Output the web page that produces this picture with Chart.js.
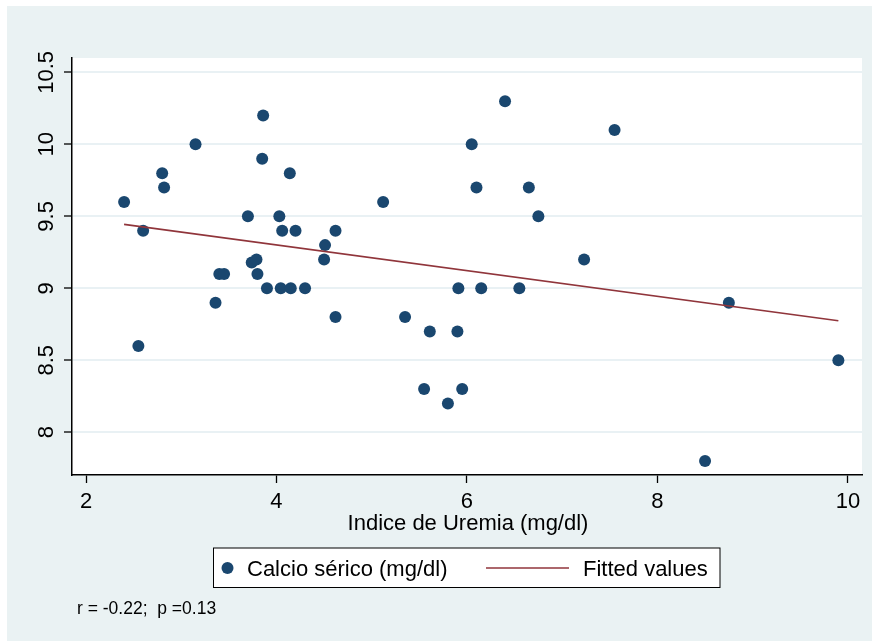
<!DOCTYPE html>
<html>
<head>
<meta charset="utf-8">
<script src="https://cdn.jsdelivr.net/npm/chart.js@4/dist/chart.umd.min.js"></script>
<style>
  html, body { margin: 0; padding: 0; background: #ffffff; }
  #wrap { width: 872px; height: 641px; }
</style>
</head>
<body>
<div id="wrap"><canvas id="c" width="872" height="641"></canvas></div>
<script>
// ---- Data ----
const uremia = [2.40, 2.55, 2.60, 2.80, 2.82, 3.15, 3.36, 3.40, 3.45, 3.70, 3.74, 3.79, 3.80, 3.85, 3.86, 3.90,
                4.03, 4.045, 4.06, 4.14, 4.15, 4.20, 4.30, 4.50, 4.51, 4.62, 4.62, 5.12, 5.35, 5.55, 5.61, 5.80,
                5.90, 5.91, 5.95, 6.05, 6.10, 6.15, 6.40, 6.55, 6.65, 6.75, 7.23, 7.55, 8.50, 8.75, 9.90];
const calcio = [9.6, 8.6, 9.4, 9.8, 9.7, 10.0, 8.9, 9.1, 9.1, 9.5, 9.18, 9.2, 9.1, 9.9, 10.2, 9.0,
                9.5, 9.0, 9.4, 9.8, 9.0, 9.4, 9.0, 9.2, 9.3, 9.4, 8.8, 9.6, 8.8, 8.3, 8.7, 8.2,
                8.7, 9.0, 8.3, 10.0, 9.7, 9.0, 10.3, 9.0, 9.7, 9.5, 9.2, 10.1, 7.8, 8.9, 8.5];
const fitX = [2.40, 9.90];
const fitY = [9.444, 8.775];
const xTicks = [2, 4, 6, 8, 10];
const yTicks = [8, 8.5, 9, 9.5, 10, 10.5];
const xTitle = "Indice de Uremia (mg/dl)";
const seriesName = "Calcio sérico (mg/dl)";
const fitName = "Fitted values";
const noteText = "r = -0.22;  p =0.13";

const FONT = "'Liberation Sans', Arial, Helvetica, sans-serif";
const NAVY = "#1a476f";
const MAROON = "#90353b";
const BG = "#eaf2f3";

const scatterData = uremia.map((x, i) => ({ x: x, y: calcio[i] }));
const fitData = fitX.map((x, i) => ({ x: x, y: fitY[i] }));

const bgPlugin = {
  id: 'bg',
  beforeDraw(chart) {
    const ctx = chart.ctx, a = chart.chartArea;
    ctx.save();
    ctx.fillStyle = '#ffffff';
    ctx.fillRect(0, 0, chart.width, chart.height);
    ctx.fillStyle = BG;
    ctx.fillRect(7, 6, chart.width - 7, chart.height - 6);
    ctx.fillStyle = '#ffffff';
    ctx.fillRect(a.left, a.top, a.right - a.left, a.bottom - a.top);
    ctx.restore();
  }
};

const textPlugin = {
  id: 'texts',
  afterDraw(chart) {
    const ctx = chart.ctx, a = chart.chartArea;
    const xs = chart.scales.x, ys = chart.scales.y;
    ctx.save();
    ctx.fillStyle = '#000';
    ctx.font = '22px ' + FONT;
    // x tick labels
    ctx.textAlign = 'center';
    ctx.textBaseline = 'alphabetic';
    xTicks.forEach(v => ctx.fillText(String(v), xs.getPixelForValue(v), 508));
    // y tick labels (rotated)
    yTicks.forEach(v => {
      ctx.save();
      ctx.translate(53, ys.getPixelForValue(v));
      ctx.rotate(-Math.PI / 2);
      ctx.textAlign = 'center';
      ctx.fillText(String(v), 0, 0);
      ctx.restore();
    });
    // x title
    ctx.textAlign = 'center';
    ctx.fillText(xTitle, (a.left + a.right) / 2 + 1, 530);
    // legend box
    ctx.fillStyle = '#ffffff';
    ctx.fillRect(213.5, 548, 506.5, 39.5);
    ctx.strokeStyle = '#000';
    ctx.lineWidth = 1;
    ctx.strokeRect(213.5, 548, 506.5, 39.5);
    ctx.fillStyle = NAVY;
    ctx.beginPath();
    ctx.arc(227.5, 568, 6, 0, Math.PI * 2);
    ctx.fill();
    ctx.fillStyle = '#000';
    ctx.textAlign = 'left';
    ctx.fillText(seriesName, 247, 576);
    ctx.strokeStyle = MAROON;
    ctx.lineWidth = 1.6;
    ctx.beginPath();
    ctx.moveTo(486, 568);
    ctx.lineTo(569, 568);
    ctx.stroke();
    ctx.fillText(fitName, 583, 576);
    // note
    ctx.font = '17.5px ' + FONT;
    ctx.fillText(noteText, 77, 614);
    ctx.restore();
  }
};

new Chart(document.getElementById('c'), {
  type: 'scatter',
  data: {
    datasets: [
      {
        label: seriesName,
        data: scatterData,
        backgroundColor: NAVY,
        borderColor: NAVY,
        borderWidth: 0,
        pointRadius: 6,
        pointHoverRadius: 6,
        order: 2
      },
      {
        type: 'line',
        label: fitName,
        data: fitData,
        borderColor: MAROON,
        backgroundColor: MAROON,
        borderWidth: 1.6,
        pointRadius: 0,
        showLine: true,
        fill: false,
        order: 1
      }
    ]
  },
  options: {
    responsive: false,
    animation: false,
    events: [],
    layout: { padding: { left: 0, top: 58, right: 10, bottom: 0 } },
    plugins: { legend: { display: false }, tooltip: { enabled: false }, title: { display: false } },
    scales: {
      x: {
        type: 'linear',
        min: 1.853,
        max: 10.148,
        afterBuildTicks(scale) { scale.ticks = xTicks.map(v => ({ value: v })); },
        afterFit(scale) { scale.height = 166; },
        ticks: { display: false },
        grid: { display: true, drawOnChartArea: false, drawTicks: true, tickLength: 8, tickColor: '#000', tickWidth: 1.3 },
        border: { display: true, color: '#000', width: 1.5 }
      },
      y: {
        type: 'linear',
        min: 7.703,
        max: 10.6,
        afterBuildTicks(scale) { scale.ticks = yTicks.map(v => ({ value: v })); },
        afterFit(scale) { scale.width = 72; },
        ticks: { display: false },
        grid: { display: true, drawOnChartArea: true, drawTicks: true, tickLength: 8, color: '#e9f1f4', lineWidth: 2, tickColor: '#000', tickWidth: 1.3 },
        border: { display: true, color: '#000', width: 1.5 }
      }
    }
  },
  plugins: [bgPlugin, textPlugin]
});
</script>
</body>
</html>
